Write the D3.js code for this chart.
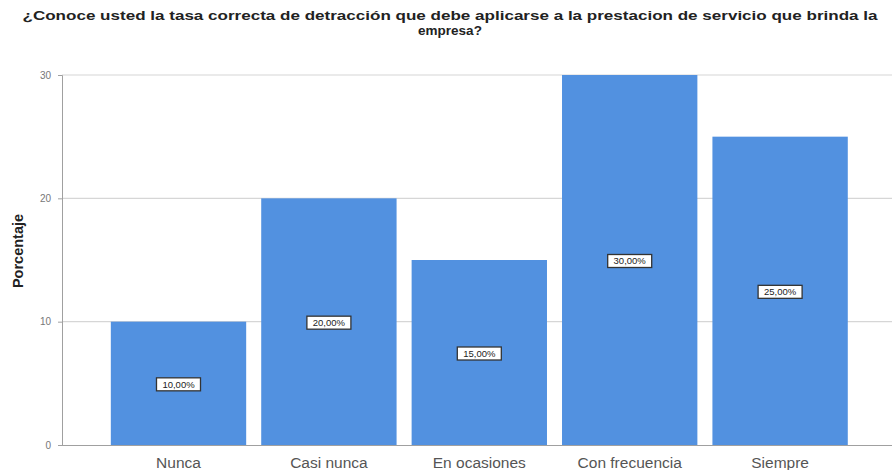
<!DOCTYPE html>
<html><head><meta charset="utf-8">
<script src="https://cdn.jsdelivr.net/npm/d3@7"></script>
<style>html,body{margin:0;padding:0;background:#fff}</style>
</head><body>
<svg id="c" width="892" height="470"></svg>
<script>
const categories = ["Nunca","Casi nunca","En ocasiones","Con frecuencia","Siempre"];
const values = [10,20,15,30,25];
const valueLabels = ["10,00%","20,00%","15,00%","30,00%","25,00%"];
const yTicks = [0,10,20,30];
const titleLines = ["¿Conoce usted la tasa correcta de detracción que debe aplicarse a la prestacion de servicio que brinda la","empresa?"];
const yLabel = "Porcentaje";

const svg = d3.select("#c");
const x0 = 62, x1 = 892, yTop = 75, yBot = 445;
const y = d3.scaleLinear().domain([0,30]).range([yBot,yTop]);
const x = d3.scaleBand().domain(categories).range([103.3,855.3]).paddingInner(0.1).paddingOuter(0.05);
const FF = "Liberation Sans, Arial, sans-serif";

// gridlines
svg.append("g").selectAll("line").data(yTicks.filter(d=>d>0)).join("line")
  .attr("x1",x0).attr("x2",x1).attr("y1",d=>y(d)).attr("y2",d=>y(d))
  .attr("stroke","#d6d6d6").attr("stroke-width",1.2);

// y axis
const ya = svg.append("g").attr("transform",`translate(${x0},0)`)
  .call(d3.axisLeft(y).tickValues(yTicks).tickSize(4).tickFormat(d3.format("d")));
ya.select(".domain").attr("stroke","#a0a0a0");
ya.selectAll(".tick line").attr("stroke","#a0a0a0");
ya.selectAll(".tick text").attr("font-family",FF).attr("font-size",10).attr("fill","#777").attr("x",-11);

// bars
svg.append("g").selectAll("rect").data(values).join("rect")
  .attr("x",(d,i)=>x(categories[i])).attr("width",x.bandwidth())
  .attr("y",d=>y(d)).attr("height",d=>yBot-y(d))
  .attr("fill","#5291e0");

// bottom axis line
svg.append("line").attr("x1",x0).attr("x2",x1).attr("y1",yBot+0.5).attr("y2",yBot+0.5).attr("stroke","#a0a0a0").attr("stroke-width",1.2);

// x labels
svg.append("g").selectAll("text").data(categories).join("text")
  .attr("x",d=>x(d)+x.bandwidth()/2).attr("y",468)
  .attr("text-anchor","middle").attr("font-family",FF).attr("font-size",15.5)
  .attr("fill","#555").text(d=>d);

// value labels
const vl = svg.append("g").selectAll("g").data(values).join("g")
  .attr("transform",(d,i)=>`translate(${x(categories[i])+x.bandwidth()/2},${(y(d)+yBot)/2+1})`);
vl.append("rect").attr("x",-22).attr("y",-6.5).attr("width",44).attr("height",13)
  .attr("fill","#fff").attr("stroke","#333").attr("stroke-width",1.3);
vl.append("text").attr("text-anchor","middle").attr("dy","0.36em")
  .attr("font-family",FF).attr("font-size",9.5).attr("fill","#222")
  .text((d,i)=>valueLabels[i]);

// title
const tt = svg.append("g").selectAll("text").data(titleLines).join("text")
  .attr("x",450).attr("y",(d,i)=>20+i*15)
  .attr("text-anchor","middle").attr("font-family",FF)
  .attr("font-weight","bold").attr("font-size",13.5).attr("fill","#222").text(d=>d);
tt.filter((d,i)=>i===0).attr("textLength",855).attr("lengthAdjust","spacingAndGlyphs");

// y label
svg.append("text").attr("transform","translate(23,251) rotate(-90)")
  .attr("text-anchor","middle").attr("font-family",FF)
  .attr("font-weight","bold").attr("font-size",14.5).attr("fill","#222").text(yLabel);
</script>
</body></html>
